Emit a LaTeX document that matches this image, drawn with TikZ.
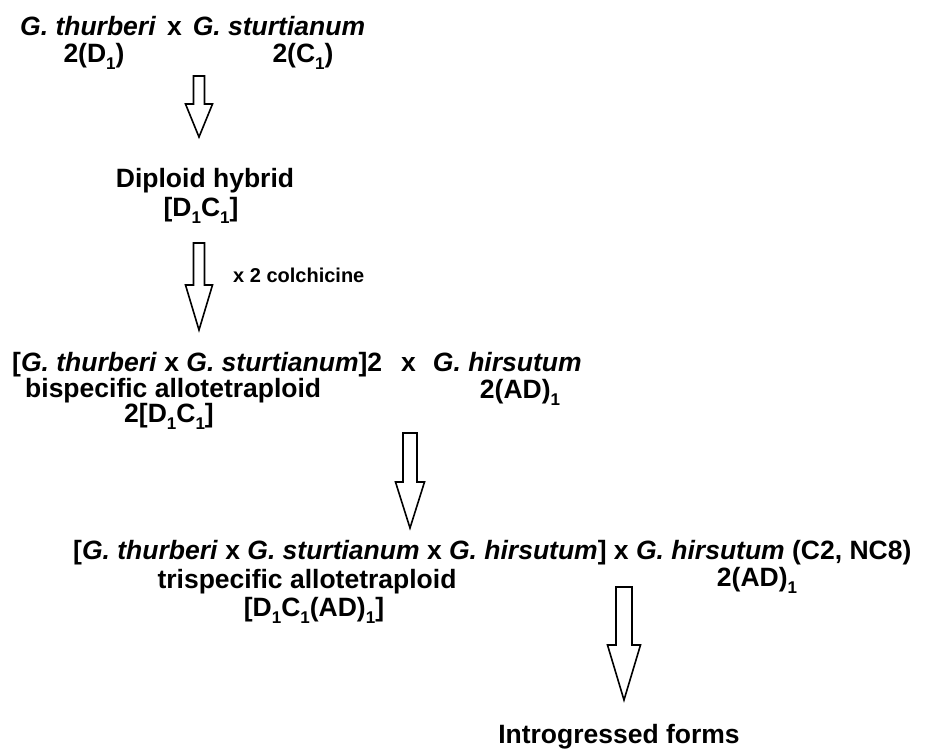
\documentclass[tikz,border=0pt]{standalone}
\usepackage{fontspec}
\setmainfont{Liberation Sans}
\usetikzlibrary{calc}
\tikzset{
  lbl/.style={inner sep=0pt, anchor=base, font=\fontsize{26.5}{30}\selectfont\bfseries},
  lblleft/.style={lbl, anchor=base west},
  note/.style={lblleft, font=\fontsize{20}{24}\selectfont\bfseries},
  hollow/.style={draw=black, line width=1.6pt, fill=white, line join=miter}
}
% lowered subscript digit
\newcommand{\sbs}[1]{\raisebox{-0.28em}{\fontsize{17}{20}\selectfont #1}}
% hollow block arrow: top, tip, shaft half width, head half width, head length
\newcommand{\blockarrow}[5]{%
  \draw[hollow] ($(#1)+(-#3,0)$) -- ($(#2)+(-#3,-#5)$) -- ($(#2)+(-#4,-#5)$) -- (#2)
    -- ($(#2)+(#4,-#5)$) -- ($(#2)+(#3,-#5)$) -- ($(#1)+(#3,0)$) -- cycle;}
\begin{document}
\begin{tikzpicture}[x=1pt, y=-1pt]
  \useasboundingbox (0,0) rectangle (927,748);
  \draw
    (20,35) node[lblleft] (cross1) {\textit{G. thurberi}\hspace{11pt}x\hspace{11pt}\textit{G. sturtianum}}
    (94,62) node[lbl] (d1) {2(D\sbs{1})}
    (303,62) node[lbl] (c1) {2(C\sbs{1})}
    (205,187) node[lbl] (hybrid) {Diploid hybrid}
    (201,216) node[lbl] (hybridg) {[D\sbs{1}C\sbs{1}]}
    (233,282) node[note] (colch) {x 2 colchicine}
    (12,371) node[lblleft] (cross2) {[\textit{G. thurberi} x \textit{G. sturtianum}]2\hspace{19pt}x\hspace{17pt}\textit{G. hirsutum}}
    (25,397) node[lblleft] (bisp) {bispecific allotetraploid}
    (169,422) node[lbl] (bispg) {2[D\sbs{1}C\sbs{1}]}
    (520,398) node[lbl] (hirs1) {2(AD)\sbs{1}}
    (73,559) node[lblleft] (cross3) {[\textit{G. thurberi} x \textit{G. sturtianum} x \textit{G. hirsutum}] x \textit{G. hirsutum} (C2, NC8)}
    (307,588) node[lbl] (trisp) {trispecific allotetraploid}
    (314,616) node[lbl] (trispg) {[D\sbs{1}C\sbs{1}(AD)\sbs{1}]}
    (757,586) node[lbl] (hirs2) {2(AD)\sbs{1}}
    (619,743) node[lbl] (intro) {Introgressed forms};
  \coordinate (a1top) at (199,76);
  \coordinate (a1tip) at (199,137);
  \coordinate (a2top) at (199,243);
  \coordinate (a2tip) at (199,330);
  \coordinate (a3top) at (410,433);
  \coordinate (a3tip) at (410,528);
  \coordinate (a4top) at (624,587);
  \coordinate (a4tip) at (624,700);
  \blockarrow{a1top}{a1tip}{5.5}{13.5}{33}
  \blockarrow{a2top}{a2tip}{5.5}{13.5}{45}
  \blockarrow{a3top}{a3tip}{7}{14.5}{46}
  \blockarrow{a4top}{a4tip}{8}{16.5}{55}
\end{tikzpicture}
\end{document}
